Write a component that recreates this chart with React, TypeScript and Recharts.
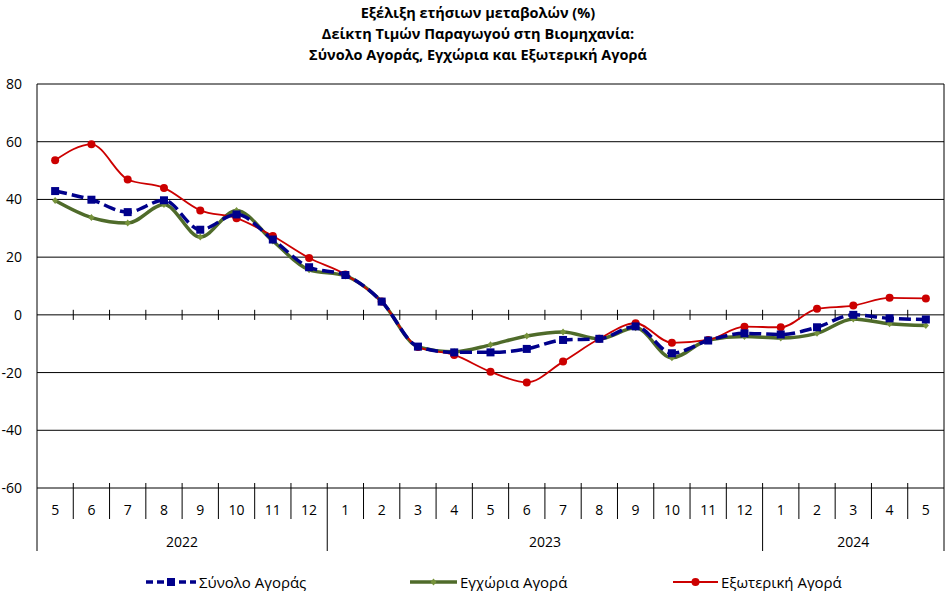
import React from 'react';
import { LineChart, Line, XAxis, YAxis, CartesianGrid, ReferenceLine } from 'recharts';

const months = [5, 6, 7, 8, 9, 10, 11, 12, 1, 2, 3, 4, 5, 6, 7, 8, 9, 10, 11, 12, 1, 2, 3, 4, 5];
const yearLabels = ['2022', '2023', '2024'];
const yearStarts = [0, 8, 20];

const total = [42.9, 39.9, 35.6, 39.7, 29.5, 34.8, 26.1, 16.5, 13.8, 4.6, -11.0, -13.0, -13.0, -11.8, -8.7, -8.3, -4.0, -13.3, -8.9, -6.4, -6.8, -4.3, 0.0, -1.2, -1.6];
const domestic = [39.6, 33.7, 31.8, 38.2, 27.0, 36.2, 25.6, 15.6, 13.5, 4.6, -11.1, -12.8, -10.4, -7.3, -5.9, -8.3, -4.5, -14.9, -8.7, -7.5, -8.0, -6.4, -1.4, -3.1, -3.7];
const external = [53.6, 59.1, 46.9, 44.0, 36.2, 33.5, 27.3, 19.7, 14.0, 4.6, -11.1, -13.9, -19.7, -23.4, -16.2, -8.3, -2.9, -9.7, -8.7, -4.1, -4.3, 2.1, 3.2, 5.9, 5.7];

const yTicks = [-60, -40, -20, 0, 20, 40, 60, 80];
const seriesNames = ['Σύνολο Αγοράς', 'Εγχώρια Αγορά', 'Εξωτερική Αγορά'];
const titleLines = ['Εξέλιξη ετήσιων μεταβολών (%)', 'Δείκτη Τιμών Παραγωγού στη Βιομηχανία:', 'Σύνολο Αγοράς, Εγχώρια και Εξωτερική Αγορά'];

const n = months.length;
const data = months.map((m, i) => ({ x: i + 0.5, month: m, total: total[i], domestic: domestic[i], external: external[i] }));
const monthTicks = months.map((_, i) => i + 0.5);
const boundaryTicks = Array.from({ length: n + 1 }, (_, i) => i);
const yearBounds = [...yearStarts, n];
const yearCenters = yearStarts.map((s, k) => (s + yearBounds[k + 1]) / 2);
const innerBounds = boundaryTicks.filter((b) => b > 0 && b < n);
const axisTicks = [...boundaryTicks, ...monthTicks].sort((a, b) => a - b);

const FONT = "'Open Sans', 'DejaVu Sans', sans-serif";
const BLUE = '#00008B';
const GREEN = '#4F6B2A';
const GREEN_DOT = '#77933C';
const RED = '#CC0000';

const AxisTick = (props: any) => {
  const { x, y, payload } = props;
  const v = payload.value;
  const k = yearCenters.indexOf(v);
  const yearText =
    k >= 0 ? (
      <text x={x} y={y + 59} textAnchor="middle" fontSize={14} fontFamily={FONT} fill="#000">
        {yearLabels[k]}
      </text>
    ) : null;
  if (Number.isInteger(v)) {
    const isYear = yearBounds.includes(v);
    const isEdge = v === 0 || v === n;
    return (
      <g>
        <line x1={x} x2={x} y1={isEdge ? y : y - 5} y2={isYear ? y + 63 : y + 31} stroke="#000" strokeWidth={1} />
        {yearText}
      </g>
    );
  }
  return (
    <g>
      <text x={x} y={y + 27} textAnchor="middle" fontSize={14} fontFamily={FONT} fill="#000">
        {months[Math.floor(v)]}
      </text>
      {yearText}
    </g>
  );
};

const SquareDot = (props: any) => {
  const { cx, cy } = props;
  return <rect x={cx - 4} y={cy - 4} width={8} height={8} fill={BLUE} />;
};

const DiamondDot = (props: any) => {
  const { cx, cy } = props;
  return <path d={`M${cx},${cy - 3.5}L${cx + 3},${cy}L${cx},${cy + 3.5}L${cx - 3},${cy}Z`} fill={GREEN_DOT} />;
};

const LegendItem = ({ left, kind, label }: { left: number; kind: number; label: string }) => {
  const w = kind === 0 ? 52 : kind === 1 ? 48 : 46;
  return (
    <div style={{ position: 'absolute', left, top: 0, display: 'flex', alignItems: 'center', height: 20 }}>
      <svg width={w} height={12} style={{ display: 'block' }}>
        {kind === 0 && (
          <g>
            <line x1={1} x2={51} y1={6} y2={6} stroke={BLUE} strokeWidth={3.5} strokeDasharray="7 4" />
            <rect x={22} y={2} width={8} height={8} fill={BLUE} />
          </g>
        )}
        {kind === 1 && (
          <g>
            <line x1={0} x2={47} y1={6} y2={6} stroke={GREEN} strokeWidth={3.5} />
            <path d="M23.5,2.5L26.5,6L23.5,9.5L20.5,6Z" fill={GREEN_DOT} />
          </g>
        )}
        {kind === 2 && (
          <g>
            <line x1={0} x2={45} y1={6} y2={6} stroke={RED} strokeWidth={1.8} />
            <circle cx={22.5} cy={6} r={4} fill={RED} />
          </g>
        )}
      </svg>
      <span style={{ fontFamily: FONT, fontSize: 15, color: '#000', marginLeft: 2, whiteSpace: 'nowrap' }}>{label}</span>
    </div>
  );
};

export default function App() {
  return (
    <div style={{ position: 'absolute', left: 0, top: 0, width: 945, height: 591, background: '#fff' }}>
      <div
        style={{
          position: 'absolute',
          left: 0,
          top: 2,
          width: 956,
          textAlign: 'center',
          fontFamily: FONT,
          fontWeight: 700,
          fontSize: 14.5,
          lineHeight: '21px',
          color: '#000',
        }}
      >
        {titleLines.map((t) => (
          <div key={t}>{t}</div>
        ))}
      </div>
      <LineChart width={945} height={591} data={data} margin={{ top: 84, right: 1, left: 0, bottom: 0 }}>
        <CartesianGrid horizontal vertical={false} stroke="#000" strokeWidth={1} />
        <YAxis
          domain={[-60, 80]}
          ticks={yTicks}
          interval={0}
          width={37}
          tickLine={false}
          tickSize={0}
          tickMargin={15}
          axisLine={{ stroke: '#000', strokeWidth: 1 }}
          tick={{ fill: '#000', fontSize: 14, fontFamily: FONT }}
        />
        <XAxis
          xAxisId="m"
          type="number"
          dataKey="x"
          domain={[0, n]}
          ticks={axisTicks}
          interval={0}
          height={103}
          tickSize={0}
          tickMargin={0}
          axisLine={false}
          tickLine={false}
          tick={<AxisTick />}
        />
        <ReferenceLine xAxisId="m" x={n} stroke="#000" strokeWidth={1} />
        {innerBounds.map((b) => (
          <ReferenceLine
            key={b}
            xAxisId="m"
            segment={[
              { x: b, y: -1.75 },
              { x: b, y: 1.75 },
            ]}
            stroke="#000"
            strokeWidth={1}
          />
        ))}
        <Line
          xAxisId="m"
          type="monotone"
          dataKey="domestic"
          name={seriesNames[1]}
          stroke={GREEN}
          strokeWidth={3.5}
          dot={<DiamondDot />}
          activeDot={false}
          isAnimationActive={false}
        />
        <Line
          xAxisId="m"
          type="monotone"
          dataKey="external"
          name={seriesNames[2]}
          stroke={RED}
          strokeWidth={1.8}
          dot={{ r: 4, fill: RED, stroke: RED, strokeWidth: 0 }}
          activeDot={false}
          isAnimationActive={false}
        />
        <Line
          xAxisId="m"
          type="monotone"
          dataKey="total"
          name={seriesNames[0]}
          stroke={BLUE}
          strokeWidth={3.5}
          strokeDasharray="12 5"
          dot={<SquareDot />}
          activeDot={false}
          isAnimationActive={false}
        />
      </LineChart>
      <div style={{ position: 'absolute', left: 0, top: 572, width: 945, height: 20 }}>
        <LegendItem left={145} kind={0} label={seriesNames[0]} />
        <LegendItem left={410} kind={1} label={seriesNames[1]} />
        <LegendItem left={673} kind={2} label={seriesNames[2]} />
      </div>
    </div>
  );
}
